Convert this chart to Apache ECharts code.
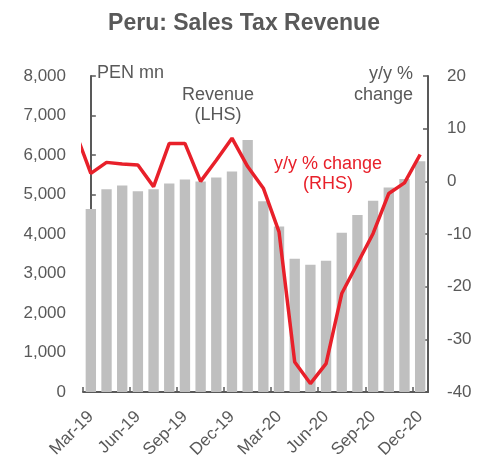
<!DOCTYPE html>
<html>
<head>
<meta charset="utf-8">
<script src="https://cdn.jsdelivr.net/npm/echarts@6/dist/echarts.min.js"></script>
<style>
  html, body { margin: 0; padding: 0; background: #fff; }
  #main { width: 488px; height: 458px; }
</style>
</head>
<body>
<div id="main"></div>
<script>
// monthly categories, Mar-19 .. Dec-20
var months = ['Mar-19', 'Apr-19', 'May-19', 'Jun-19', 'Jul-19', 'Aug-19', 'Sep-19', 'Oct-19', 'Nov-19', 'Dec-19',
  'Jan-20', 'Feb-20', 'Mar-20', 'Apr-20', 'May-20', 'Jun-20', 'Jul-20', 'Aug-20', 'Sep-20', 'Oct-20', 'Nov-20', 'Dec-20'];

// sales tax revenue, PEN mn (LHS)
var revenue = [4630, 5130, 5230, 5080, 5130, 5280, 5380, 5330, 5430, 5580,
  6380, 4830, 4190, 3375, 3220, 3325, 4030, 4480, 4840, 5180, 5390, 5840];

// y/y % change (RHS) - starts one month earlier (Feb-19), cut off by the plot edge
var yoyMonthIdx = [-1, 0, 1, 2, 3, 4, 5, 6, 7, 8, 9, 10, 11, 12, 13, 14, 15, 16, 17, 18, 19, 20, 21];
var yoy = [9.5, 1.5, 3.6, 3.3, 3.1, -1.0, 7.2, 7.2, 0.0, 4.0, 8.2,
  2.8, -1.3, -9.6, -34.3, -38.4, -34.6, -21.3, -15.6, -9.9, -2.3, -0.3, 5.1];

var leftTicks = { min: 0, max: 8000, interval: 1000 };
var rightTicks = { min: -40, max: 20, interval: 10 };

var grey = '#595959';
var red = '#e8202a';
var font = 'Liberation Sans, Arial, sans-serif';

var myChart = echarts.init(document.getElementById('main'), null, { renderer: 'canvas' });

myChart.setOption({
  animation: false,
  title: {
    text: 'Peru: Sales Tax Revenue',
    left: 'center',
    top: 7,
    textStyle: { color: grey, fontSize: 23, fontWeight: 'bold', fontFamily: font }
  },
  grid: { left: 83, right: 60, top: 76, bottom: 66, outerBoundsMode: 'none' },
  xAxis: [{
    type: 'category',
    data: months,
    axisLine: { lineStyle: { color: grey, width: 2 } },
    axisTick: { show: true, inside: true, length: 5, interval: 2, lineStyle: { color: grey, width: 1.5 } },
    axisLabel: { interval: 2, rotate: 45, margin: 22, color: grey, fontSize: 17, fontFamily: font }
  }, {
    // hidden helper axis so the line can start before the first bar
    type: 'value',
    min: -0.5,
    max: months.length - 0.5,
    show: false
  }],
  yAxis: [{
    type: 'value',
    min: leftTicks.min,
    max: leftTicks.max,
    interval: leftTicks.interval,
    splitLine: { show: false },
    axisLine: { show: true, lineStyle: { color: grey, width: 2 } },
    axisTick: { show: true, inside: true, length: 5, lineStyle: { color: grey, width: 1.5 } },
    axisLabel: { margin: 17, color: grey, fontSize: 17, fontFamily: font }
  }, {
    type: 'value',
    position: 'right',
    min: rightTicks.min,
    max: rightTicks.max,
    interval: rightTicks.interval,
    splitLine: { show: false },
    axisLine: { show: true, lineStyle: { color: grey, width: 2 } },
    axisTick: { show: true, inside: true, length: 5, lineStyle: { color: grey, width: 1.5 } },
    axisLabel: { margin: 19, color: grey, fontSize: 17, fontFamily: font }
  }],
  series: [{
    name: 'Revenue',
    type: 'bar',
    xAxisIndex: 0,
    yAxisIndex: 0,
    data: revenue,
    barCategoryGap: '34%',
    itemStyle: { color: '#bfbfbf' }
  }, {
    name: 'y/y % change',
    type: 'line',
    xAxisIndex: 1,
    yAxisIndex: 1,
    clip: true,
    symbol: 'none',
    data: yoyMonthIdx.map(function (m, i) { return [m, yoy[i]]; }),
    lineStyle: { color: red, width: 3.5 }
  }],
  graphic: [
    { type: 'text', left: 97, top: 64, style: { text: 'PEN mn', fill: grey, font: '18px ' + font } },
    { type: 'text', left: 182, top: 85, style: { text: 'Revenue\n(LHS)', fill: grey, font: '18px ' + font, textAlign: 'center', lineHeight: 20 } },
    { type: 'text', right: 75, top: 64, style: { text: 'y/y %\nchange', fill: grey, font: '18px ' + font, textAlign: 'right', lineHeight: 21 } },
    { type: 'text', left: 274, top: 154, style: { text: 'y/y % change\n(RHS)', fill: red, font: '18px ' + font, textAlign: 'center', lineHeight: 20 } }
  ]
});
</script>
</body>
</html>
